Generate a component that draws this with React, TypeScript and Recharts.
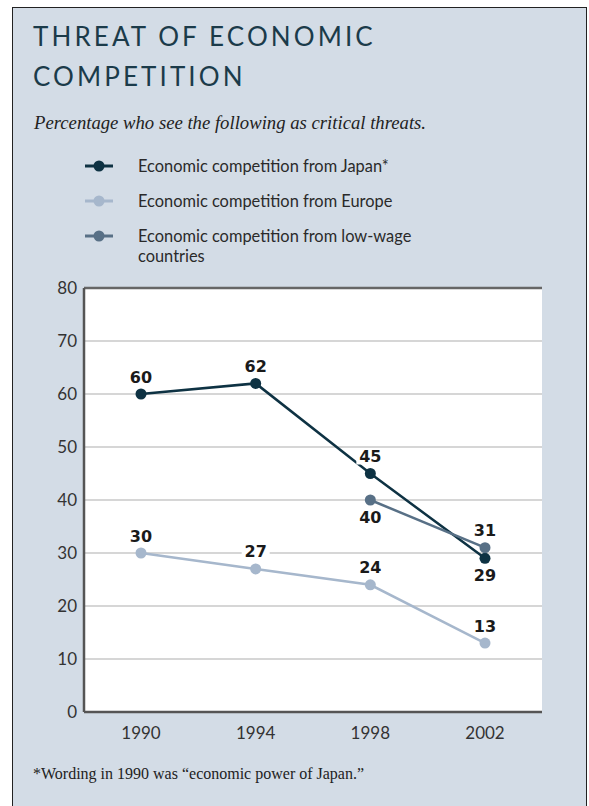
import React from 'react';
import { LineChart, Line, XAxis, YAxis, CartesianGrid, ReferenceLine, LabelList, Legend } from 'recharts';

const years = ['1990', '1994', '1998', '2002'];
const japan = [60, 62, 45, 29];
const europe = [30, 27, 24, 13];
const lowWage = [null, null, 40, 31];
const yTicks = [0, 10, 20, 30, 40, 50, 60, 70, 80];

const data = years.map((year, i) => ({
  year,
  japan: japan[i],
  europe: europe[i],
  lowWage: lowWage[i],
}));

const series = [
  { key: 'japan', name: 'Economic competition from Japan*', color: '#0e3243', below: [3] },
  { key: 'europe', name: 'Economic competition from Europe', color: '#a6b7cc', below: [] as number[] },
  { key: 'lowWage', name: 'Economic competition from low-wage countries', color: '#587086', below: [2] },
];

const geo = 'Lato, "DejaVu Sans", sans-serif';
const serif = '"Liberation Serif", "DejaVu Serif", serif';

function makeLabel(below: number[]) {
  return (props: any) => {
    const { x, y, value, index } = props;
    if (value == null) return null;
    const cy = below.includes(index) ? y + 17 : y - 17;
    const txt = String(value);
    const w = txt.length * 11 + 6;
    return (
      <g>
        <rect x={x - w / 2} y={cy - 8} width={w} height={16} fill="#fff" />
        <text
          x={x}
          y={cy}
          textAnchor="middle"
          dominantBaseline="central"
          fontFamily='"DejaVu Sans", sans-serif'
          fontWeight="bold"
          fontSize={16}
          fill="#1a1a1a"
        >
          {txt}
        </text>
      </g>
    );
  };
}

function LegendBox({ payload }: any) {
  const order = series.map((s) => s.name);
  const items = [...(payload || [])].sort((a: any, b: any) => order.indexOf(a.value) - order.indexOf(b.value));
  return (
    <div style={{ fontFamily: geo, fontSize: 16.4, color: '#2a2a2a' }}>
      {items.map((p: any) => (
        <div key={p.value} style={{ display: 'flex', alignItems: 'flex-start', height: 35 }}>
          <svg width={30} height={20} style={{ marginRight: 24, flexShrink: 0 }}>
            <line x1={1} x2={29} y1={10} y2={10} stroke={p.color} strokeWidth={3} />
            <circle cx={15} cy={10} r={5.5} fill={p.color} />
          </svg>
          <div style={{ width: 282, lineHeight: '20px' }}>{p.value}</div>
        </div>
      ))}
    </div>
  );
}

export default function App() {
  return (
    <div style={{ position: 'relative', width: 589, height: 806, background: '#fff', overflow: 'hidden' }}>
      <style>{'body{margin:0}'}</style>
      <div
        style={{
          position: 'absolute',
          left: 12,
          top: 7,
          width: 573,
          height: 820,
          background: '#d3dce6',
          border: '1.5px solid #222',
        }}
      />
      <div
        style={{
          position: 'absolute',
          left: 33,
          top: 16,
          fontFamily: geo,
          fontSize: 26,
          letterSpacing: 3.1,
          lineHeight: '40px',
          color: '#1b3b4a',
          fontWeight: 400,
        }}
      >
        THREAT OF ECONOMIC
        <br />
        COMPETITION
      </div>
      <div
        style={{
          position: 'absolute',
          left: 34,
          top: 112,
          fontFamily: serif,
          fontStyle: 'italic',
          fontSize: 18.7,
          color: '#222',
        }}
      >
        Percentage who see the following as critical threats.
      </div>
      <div
        style={{
          position: 'absolute',
          left: 33,
          top: 765,
          fontFamily: serif,
          fontSize: 16,
          color: '#222',
        }}
      >
        *Wording in 1990 was “economic power of Japan.”
      </div>
      <div style={{ position: 'absolute', left: 0, top: 0 }}>
        <LineChart width={589} height={806} data={data} margin={{ top: 288, right: 47, left: 44, bottom: 64 }}>
          <CartesianGrid vertical={false} fill="#fff" stroke="#c9c9c9" strokeWidth={1.5} />
          <XAxis
            dataKey="year"
            height={30}
            padding={{ left: 57, right: 57 }}
            axisLine={{ stroke: '#555', strokeWidth: 2.5 }}
            tickLine={false}
            tickSize={0}
            tickMargin={15}
            tick={{ fill: '#333', fontSize: 17, fontFamily: geo }}
          />
          <YAxis
            width={40}
            domain={[0, 80]}
            ticks={yTicks}
            interval={0}
            axisLine={{ stroke: '#555', strokeWidth: 2.5 }}
            tickLine={false}
            tickSize={5}
            tickMargin={2}
            tick={{ fill: '#333', fontSize: 17, fontFamily: geo }}
          />
          <ReferenceLine y={80} stroke="#666" strokeWidth={2.5} />
          <Legend
            layout="horizontal"
            verticalAlign="middle"
            align="center"
            content={<LegendBox />}
            wrapperStyle={{ position: 'absolute', top: 156, left: 84, width: 400 }}
          />
          {series.map((s) => (
            <Line
              key={s.key}
              dataKey={s.key}
              name={s.name}
              stroke={s.color}
              strokeWidth={2.5}
              dot={{ r: 5.5, fill: s.color, stroke: s.color, strokeWidth: 0 }}
              activeDot={false}
              isAnimationActive={false}
            >
              <LabelList dataKey={s.key} content={makeLabel(s.below)} />
            </Line>
          ))}
        </LineChart>
      </div>
    </div>
  );
}
